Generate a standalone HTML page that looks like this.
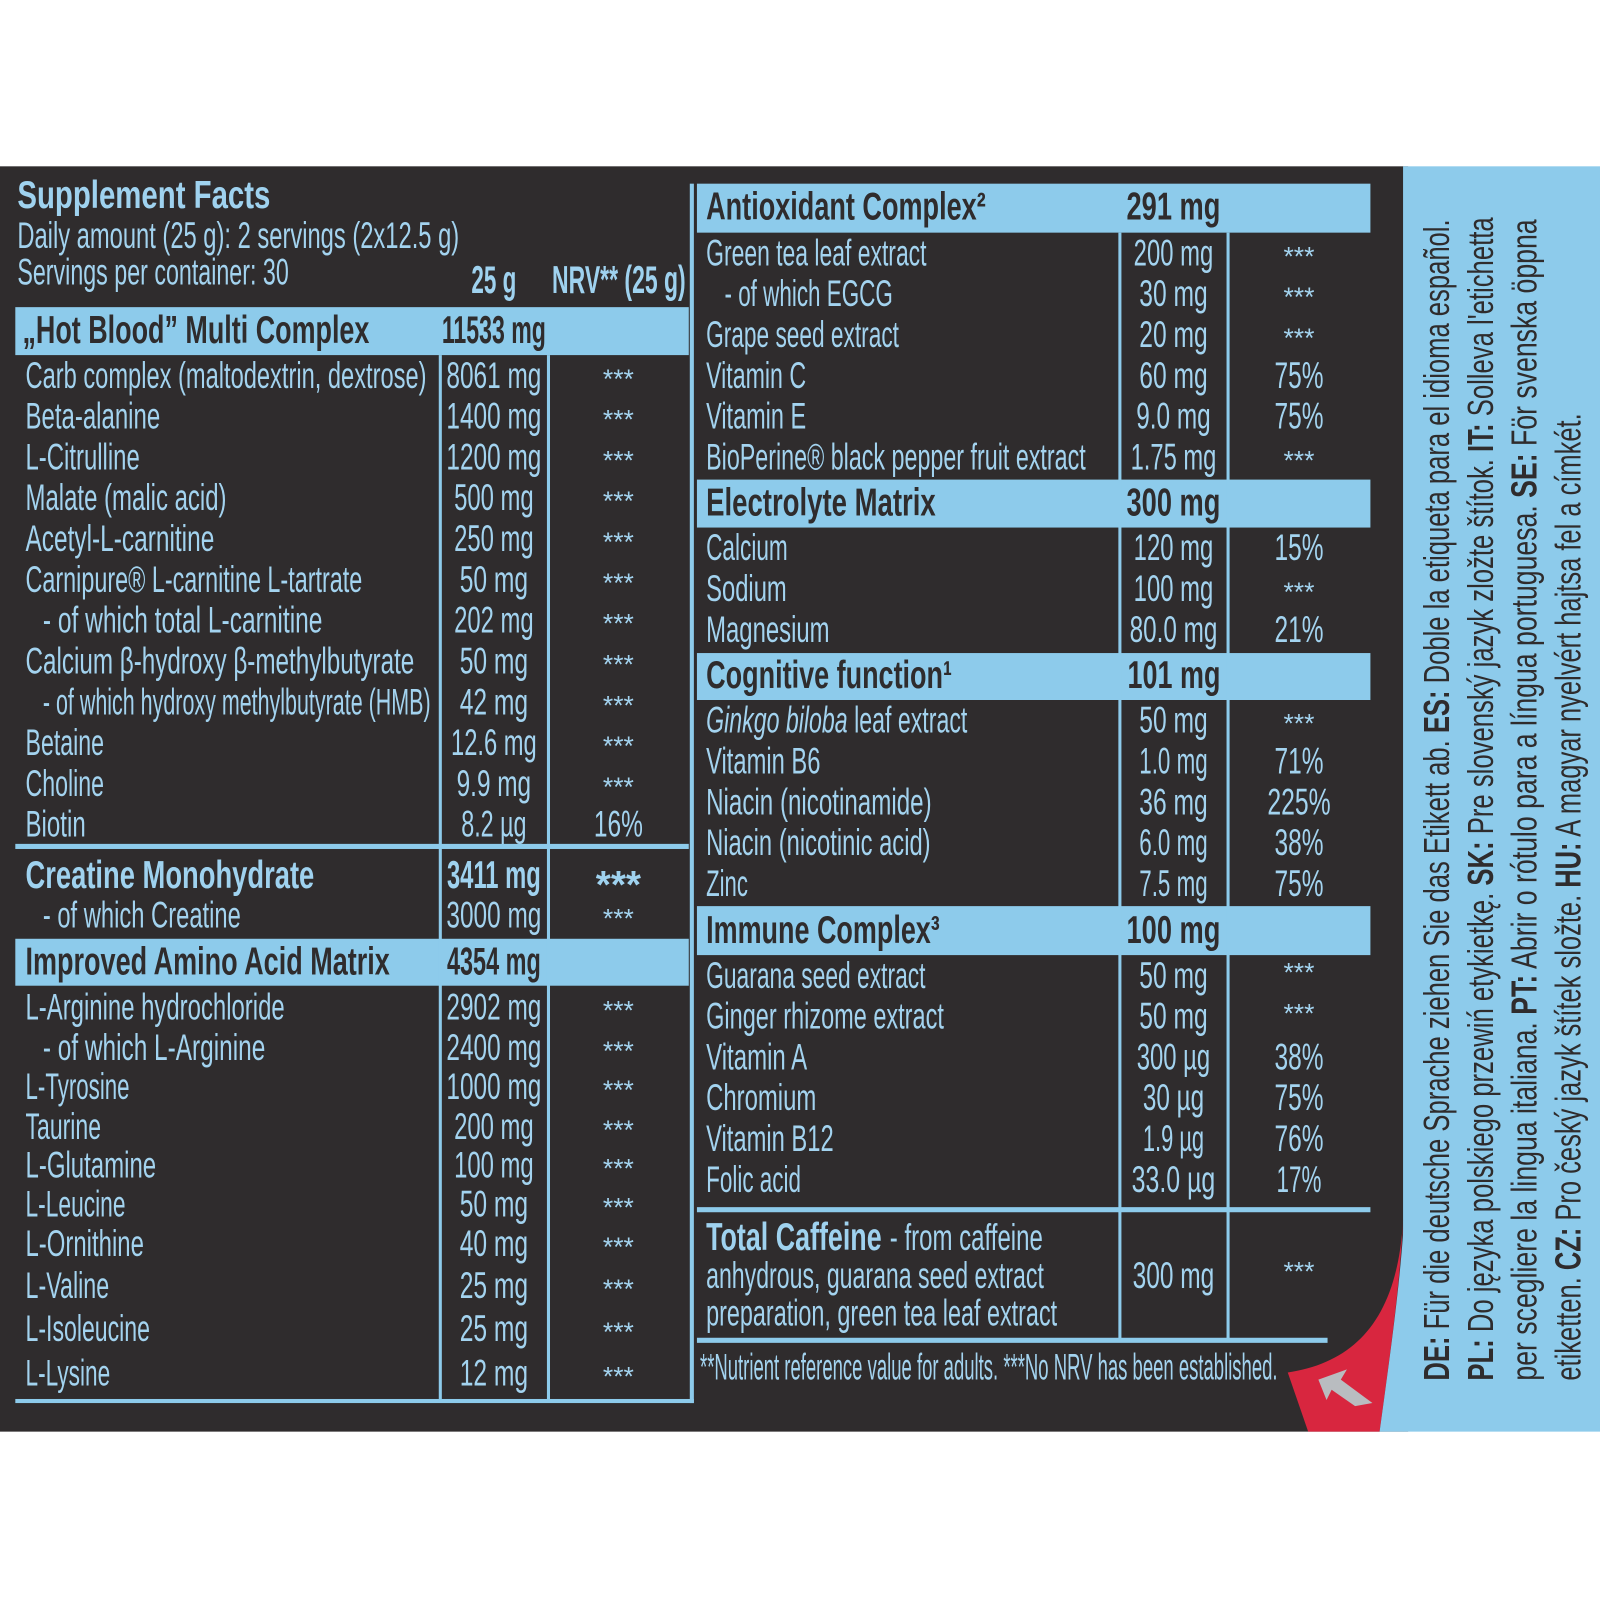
<!DOCTYPE html>
<html><head><meta charset="utf-8"><style>
html,body{margin:0;padding:0;background:#fff}
svg{display:block}
.t{font-family:"Liberation Sans Narrow","Liberation Sans",sans-serif;font-size:36px;fill:#a3d3ef}
.b{font-family:"Liberation Sans Narrow","Liberation Sans",sans-serif;font-size:38px;font-weight:bold}
.h{fill:#2f2c2d}
.hb{fill:#9fd2ef}
.m{text-anchor:middle}
.s{font-family:"Liberation Sans",sans-serif;font-size:26px;fill:#a3d3ef;text-anchor:middle}
.r{font-family:"Liberation Sans Narrow","Liberation Sans",sans-serif;font-size:35px;fill:#2f2c2d}
</style></head><body>
<svg width="1600" height="1600" viewBox="0 0 1568 1568" xmlns="http://www.w3.org/2000/svg">
<rect width="1568" height="1568" fill="#fff"/>
<rect x="0" y="163" width="1380" height="1240" fill="#2f2c2d"/>
<rect x="1375" y="163" width="193" height="1240" fill="#8dcbeb"/>
<path d="M1375,1195 C1370,1290 1330,1335 1262,1345 L1282,1403 L1352,1403 C1362,1330 1372,1260 1375,1195 Z" fill="#d8263f"/>
<path d="M1352,1403 C1362,1330 1372,1260 1376,1195 L1376,1403 Z" fill="#8dcbeb"/>
<path d="M1292,1352 L1320,1342 L1314,1352 L1345,1375 L1328,1378 L1305,1362 L1300,1372 Z" fill="#b9bcc0"/>

<!-- header -->
<text class="b hb" x="17" y="204" textLength="248" lengthAdjust="spacingAndGlyphs">Supplement Facts</text>
<text class="t" x="17" y="243" textLength="433" lengthAdjust="spacingAndGlyphs">Daily amount (25 g): 2 servings (2x12.5 g)</text>
<text class="t" x="17" y="279" textLength="266" lengthAdjust="spacingAndGlyphs">Servings per container: 30</text>
<text class="b hb" x="462" y="287" textLength="44" lengthAdjust="spacingAndGlyphs">25 g</text>
<text class="b hb" x="541" y="287" textLength="131" lengthAdjust="spacingAndGlyphs">NRV** (25 g)</text>

<!-- left table structure -->
<rect x="15" y="301" width="660" height="47" fill="#8dcbeb"/>
<rect x="15" y="920" width="660" height="46" fill="#8dcbeb"/>
<rect x="15" y="827" width="660" height="5" fill="#8dcbeb"/>
<rect x="15" y="1371" width="665" height="4" fill="#8dcbeb"/>
<rect x="430" y="348" width="3" height="1025" fill="#8dcbeb"/>
<rect x="536" y="348" width="3" height="1025" fill="#8dcbeb"/>
<rect x="676" y="180" width="4" height="1195" fill="#8dcbeb"/>

<text class="b h" x="22" y="336" textLength="340" lengthAdjust="spacingAndGlyphs">„Hot Blood” Multi Complex</text>
<text class="b h" x="433" y="336" textLength="102" lengthAdjust="spacingAndGlyphs">11533 mg</text>
<text class="b h" x="25" y="955" textLength="357" lengthAdjust="spacingAndGlyphs">Improved Amino Acid Matrix</text>
<text class="b h" x="438" y="955" textLength="92" lengthAdjust="spacingAndGlyphs">4354 mg</text>
<text class="b hb" x="25" y="870" textLength="283" lengthAdjust="spacingAndGlyphs">Creatine Monohydrate</text>
<text class="b hb" x="438" y="870" textLength="92" lengthAdjust="spacingAndGlyphs">3411 mg</text>
<text class="b hb m" x="606" y="880">***</text>

<g>
<text class="t" x="25" y="380" textLength="393" lengthAdjust="spacingAndGlyphs">Carb complex (maltodextrin, dextrose)</text>
<text class="t" x="25" y="420" textLength="132" lengthAdjust="spacingAndGlyphs">Beta-alanine</text>
<text class="t" x="25" y="460" textLength="112" lengthAdjust="spacingAndGlyphs">L-Citrulline</text>
<text class="t" x="25" y="500" textLength="197" lengthAdjust="spacingAndGlyphs">Malate (malic acid)</text>
<text class="t" x="25" y="540" textLength="185" lengthAdjust="spacingAndGlyphs">Acetyl-L-carnitine</text>
<text class="t" x="25" y="580" textLength="330" lengthAdjust="spacingAndGlyphs">Carnipure® L-carnitine L-tartrate</text>
<text class="t" x="42" y="620" textLength="274" lengthAdjust="spacingAndGlyphs">- of which total L-carnitine</text>
<text class="t" x="25" y="660" textLength="381" lengthAdjust="spacingAndGlyphs">Calcium β-hydroxy β-methylbutyrate</text>
<text class="t" x="42" y="700" textLength="380" lengthAdjust="spacingAndGlyphs">- of which hydroxy methylbutyrate (HMB)</text>
<text class="t" x="25" y="740" textLength="77" lengthAdjust="spacingAndGlyphs">Betaine</text>
<text class="t" x="25" y="780" textLength="77" lengthAdjust="spacingAndGlyphs">Choline</text>
<text class="t" x="25" y="820" textLength="59" lengthAdjust="spacingAndGlyphs">Biotin</text>
<text class="t" x="42" y="909" textLength="194" lengthAdjust="spacingAndGlyphs">- of which Creatine</text>
<text class="t" x="25" y="999" textLength="254" lengthAdjust="spacingAndGlyphs">L-Arginine hydrochloride</text>
<text class="t" x="42" y="1039" textLength="218" lengthAdjust="spacingAndGlyphs">- of which L-Arginine</text>
<text class="t" x="25" y="1077" textLength="102" lengthAdjust="spacingAndGlyphs">L-Tyrosine</text>
<text class="t" x="25" y="1116" textLength="74" lengthAdjust="spacingAndGlyphs">Taurine</text>
<text class="t" x="25" y="1154" textLength="128" lengthAdjust="spacingAndGlyphs">L-Glutamine</text>
<text class="t" x="25" y="1192" textLength="98" lengthAdjust="spacingAndGlyphs">L-Leucine</text>
<text class="t" x="25" y="1231" textLength="116" lengthAdjust="spacingAndGlyphs">L-Ornithine</text>
<text class="t" x="25" y="1272" textLength="82" lengthAdjust="spacingAndGlyphs">L-Valine</text>
<text class="t" x="25" y="1314" textLength="122" lengthAdjust="spacingAndGlyphs">L-Isoleucine</text>
<text class="t" x="25" y="1358" textLength="83" lengthAdjust="spacingAndGlyphs">L-Lysine</text>
</g>
<g>
<text class="t m" x="484" y="380" textLength="93" lengthAdjust="spacingAndGlyphs">8061 mg</text>
<text class="t m" x="484" y="420" textLength="93" lengthAdjust="spacingAndGlyphs">1400 mg</text>
<text class="t m" x="484" y="460" textLength="93" lengthAdjust="spacingAndGlyphs">1200 mg</text>
<text class="t m" x="484" y="500" textLength="78" lengthAdjust="spacingAndGlyphs">500 mg</text>
<text class="t m" x="484" y="540" textLength="78" lengthAdjust="spacingAndGlyphs">250 mg</text>
<text class="t m" x="484" y="580" textLength="67" lengthAdjust="spacingAndGlyphs">50 mg</text>
<text class="t m" x="484" y="620" textLength="78" lengthAdjust="spacingAndGlyphs">202 mg</text>
<text class="t m" x="484" y="660" textLength="67" lengthAdjust="spacingAndGlyphs">50 mg</text>
<text class="t m" x="484" y="700" textLength="67" lengthAdjust="spacingAndGlyphs">42 mg</text>
<text class="t m" x="484" y="740" textLength="84" lengthAdjust="spacingAndGlyphs">12.6 mg</text>
<text class="t m" x="484" y="780" textLength="73" lengthAdjust="spacingAndGlyphs">9.9 mg</text>
<text class="t m" x="484" y="820" textLength="64" lengthAdjust="spacingAndGlyphs">8.2 µg</text>
<text class="t m" x="484" y="909" textLength="93" lengthAdjust="spacingAndGlyphs">3000 mg</text>
<text class="t m" x="484" y="999" textLength="93" lengthAdjust="spacingAndGlyphs">2902 mg</text>
<text class="t m" x="484" y="1039" textLength="93" lengthAdjust="spacingAndGlyphs">2400 mg</text>
<text class="t m" x="484" y="1077" textLength="93" lengthAdjust="spacingAndGlyphs">1000 mg</text>
<text class="t m" x="484" y="1116" textLength="78" lengthAdjust="spacingAndGlyphs">200 mg</text>
<text class="t m" x="484" y="1154" textLength="78" lengthAdjust="spacingAndGlyphs">100 mg</text>
<text class="t m" x="484" y="1192" textLength="67" lengthAdjust="spacingAndGlyphs">50 mg</text>
<text class="t m" x="484" y="1231" textLength="67" lengthAdjust="spacingAndGlyphs">40 mg</text>
<text class="t m" x="484" y="1272" textLength="67" lengthAdjust="spacingAndGlyphs">25 mg</text>
<text class="t m" x="484" y="1314" textLength="67" lengthAdjust="spacingAndGlyphs">25 mg</text>
<text class="t m" x="484" y="1358" textLength="67" lengthAdjust="spacingAndGlyphs">12 mg</text>
</g>
<g>
<text class="s" x="606" y="380">***</text>
<text class="s" x="606" y="420">***</text>
<text class="s" x="606" y="460">***</text>
<text class="s" x="606" y="500">***</text>
<text class="s" x="606" y="540">***</text>
<text class="s" x="606" y="580">***</text>
<text class="s" x="606" y="620">***</text>
<text class="s" x="606" y="660">***</text>
<text class="s" x="606" y="700">***</text>
<text class="s" x="606" y="740">***</text>
<text class="s" x="606" y="780">***</text>
<text class="t m" x="606" y="820" textLength="48" lengthAdjust="spacingAndGlyphs">16%</text>
<text class="s" x="606" y="909">***</text>
<text class="s" x="606" y="999">***</text>
<text class="s" x="606" y="1039">***</text>
<text class="s" x="606" y="1077">***</text>
<text class="s" x="606" y="1116">***</text>
<text class="s" x="606" y="1154">***</text>
<text class="s" x="606" y="1192">***</text>
<text class="s" x="606" y="1231">***</text>
<text class="s" x="606" y="1272">***</text>
<text class="s" x="606" y="1314">***</text>
<text class="s" x="606" y="1358">***</text>
</g>

<!-- right table structure -->
<rect x="683" y="180" width="660" height="48" fill="#8dcbeb"/>
<rect x="683" y="470" width="660" height="47" fill="#8dcbeb"/>
<rect x="683" y="640" width="660" height="46" fill="#8dcbeb"/>
<rect x="683" y="888" width="660" height="48" fill="#8dcbeb"/>
<rect x="683" y="1183" width="660" height="5" fill="#8dcbeb"/>
<rect x="683" y="1311" width="618" height="5" fill="#8dcbeb"/>
<rect x="1096" y="228" width="3" height="1085" fill="#8dcbeb"/>
<rect x="1202" y="228" width="3" height="1085" fill="#8dcbeb"/>

<text class="b h" x="692" y="215" textLength="274" lengthAdjust="spacingAndGlyphs">Antioxidant Complex²</text>
<text class="b h" x="1104" y="215" textLength="92" lengthAdjust="spacingAndGlyphs">291 mg</text>
<text class="b h" x="692" y="505" textLength="225" lengthAdjust="spacingAndGlyphs">Electrolyte Matrix</text>
<text class="b h" x="1104" y="505" textLength="92" lengthAdjust="spacingAndGlyphs">300 mg</text>
<text class="b h" x="692" y="674" textLength="241" lengthAdjust="spacingAndGlyphs">Cognitive function¹</text>
<text class="b h" x="1105" y="674" textLength="91" lengthAdjust="spacingAndGlyphs">101 mg</text>
<text class="b h" x="692" y="924" textLength="229" lengthAdjust="spacingAndGlyphs">Immune Complex³</text>
<text class="b h" x="1104" y="924" textLength="92" lengthAdjust="spacingAndGlyphs">100 mg</text>

<g>
<text class="t" x="692" y="260" textLength="216" lengthAdjust="spacingAndGlyphs">Green tea leaf extract</text>
<text class="t" x="710" y="300" textLength="165" lengthAdjust="spacingAndGlyphs">- of which EGCG</text>
<text class="t" x="692" y="340" textLength="189" lengthAdjust="spacingAndGlyphs">Grape seed extract</text>
<text class="t" x="692" y="380" textLength="98" lengthAdjust="spacingAndGlyphs">Vitamin C</text>
<text class="t" x="692" y="420" textLength="98" lengthAdjust="spacingAndGlyphs">Vitamin E</text>
<text class="t" x="692" y="460" textLength="372" lengthAdjust="spacingAndGlyphs">BioPerine® black pepper fruit extract</text>
<text class="t" x="692" y="549" textLength="80" lengthAdjust="spacingAndGlyphs">Calcium</text>
<text class="t" x="692" y="589" textLength="79" lengthAdjust="spacingAndGlyphs">Sodium</text>
<text class="t" x="692" y="629" textLength="121" lengthAdjust="spacingAndGlyphs">Magnesium</text>
<text class="t" x="692" y="718" textLength="256" lengthAdjust="spacingAndGlyphs"><tspan font-style="italic">Ginkgo biloba</tspan> leaf extract</text>
<text class="t" x="692" y="758" textLength="112" lengthAdjust="spacingAndGlyphs">Vitamin B6</text>
<text class="t" x="692" y="798" textLength="221" lengthAdjust="spacingAndGlyphs">Niacin (nicotinamide)</text>
<text class="t" x="692" y="838" textLength="220" lengthAdjust="spacingAndGlyphs">Niacin (nicotinic acid)</text>
<text class="t" x="692" y="878" textLength="41" lengthAdjust="spacingAndGlyphs">Zinc</text>
<text class="t" x="692" y="968" textLength="215" lengthAdjust="spacingAndGlyphs">Guarana seed extract</text>
<text class="t" x="692" y="1008" textLength="233" lengthAdjust="spacingAndGlyphs">Ginger rhizome extract</text>
<text class="t" x="692" y="1048" textLength="99" lengthAdjust="spacingAndGlyphs">Vitamin A</text>
<text class="t" x="692" y="1088" textLength="108" lengthAdjust="spacingAndGlyphs">Chromium</text>
<text class="t" x="692" y="1128" textLength="125" lengthAdjust="spacingAndGlyphs">Vitamin B12</text>
<text class="t" x="692" y="1168" textLength="93" lengthAdjust="spacingAndGlyphs">Folic acid</text>
<text class="b hb" x="692" y="1225" textLength="172" lengthAdjust="spacingAndGlyphs">Total Caffeine</text>
<text class="t" x="872" y="1225" textLength="150" lengthAdjust="spacingAndGlyphs">- from caffeine</text>
<text class="t" x="692" y="1262" textLength="331" lengthAdjust="spacingAndGlyphs">anhydrous, guarana seed extract</text>
<text class="t" x="692" y="1299" textLength="344" lengthAdjust="spacingAndGlyphs">preparation, green tea leaf extract</text>
</g>
<g>
<text class="t m" x="1150" y="260" textLength="78" lengthAdjust="spacingAndGlyphs">200 mg</text>
<text class="t m" x="1150" y="300" textLength="67" lengthAdjust="spacingAndGlyphs">30 mg</text>
<text class="t m" x="1150" y="340" textLength="67" lengthAdjust="spacingAndGlyphs">20 mg</text>
<text class="t m" x="1150" y="380" textLength="67" lengthAdjust="spacingAndGlyphs">60 mg</text>
<text class="t m" x="1150" y="420" textLength="73" lengthAdjust="spacingAndGlyphs">9.0 mg</text>
<text class="t m" x="1150" y="460" textLength="84" lengthAdjust="spacingAndGlyphs">1.75 mg</text>
<text class="t m" x="1150" y="549" textLength="78" lengthAdjust="spacingAndGlyphs">120 mg</text>
<text class="t m" x="1150" y="589" textLength="78" lengthAdjust="spacingAndGlyphs">100 mg</text>
<text class="t m" x="1150" y="629" textLength="86" lengthAdjust="spacingAndGlyphs">80.0 mg</text>
<text class="t m" x="1150" y="718" textLength="67" lengthAdjust="spacingAndGlyphs">50 mg</text>
<text class="t m" x="1150" y="758" textLength="67" lengthAdjust="spacingAndGlyphs">1.0 mg</text>
<text class="t m" x="1150" y="798" textLength="67" lengthAdjust="spacingAndGlyphs">36 mg</text>
<text class="t m" x="1150" y="838" textLength="67" lengthAdjust="spacingAndGlyphs">6.0 mg</text>
<text class="t m" x="1150" y="878" textLength="67" lengthAdjust="spacingAndGlyphs">7.5 mg</text>
<text class="t m" x="1150" y="968" textLength="67" lengthAdjust="spacingAndGlyphs">50 mg</text>
<text class="t m" x="1150" y="1008" textLength="67" lengthAdjust="spacingAndGlyphs">50 mg</text>
<text class="t m" x="1150" y="1048" textLength="72" lengthAdjust="spacingAndGlyphs">300 µg</text>
<text class="t m" x="1150" y="1088" textLength="60" lengthAdjust="spacingAndGlyphs">30 µg</text>
<text class="t m" x="1150" y="1128" textLength="60" lengthAdjust="spacingAndGlyphs">1.9 µg</text>
<text class="t m" x="1150" y="1168" textLength="82" lengthAdjust="spacingAndGlyphs">33.0 µg</text>
<text class="t m" x="1150" y="1262" textLength="80" lengthAdjust="spacingAndGlyphs">300 mg</text>
</g>
<g>
<text class="s" x="1273" y="260">***</text>
<text class="s" x="1273" y="300">***</text>
<text class="s" x="1273" y="340">***</text>
<text class="t m" x="1273" y="380" textLength="48" lengthAdjust="spacingAndGlyphs">75%</text>
<text class="t m" x="1273" y="420" textLength="48" lengthAdjust="spacingAndGlyphs">75%</text>
<text class="s" x="1273" y="460">***</text>
<text class="t m" x="1273" y="549" textLength="48" lengthAdjust="spacingAndGlyphs">15%</text>
<text class="s" x="1273" y="589">***</text>
<text class="t m" x="1273" y="629" textLength="48" lengthAdjust="spacingAndGlyphs">21%</text>
<text class="s" x="1273" y="718">***</text>
<text class="t m" x="1273" y="758" textLength="48" lengthAdjust="spacingAndGlyphs">71%</text>
<text class="t m" x="1273" y="798" textLength="62" lengthAdjust="spacingAndGlyphs">225%</text>
<text class="t m" x="1273" y="838" textLength="48" lengthAdjust="spacingAndGlyphs">38%</text>
<text class="t m" x="1273" y="878" textLength="48" lengthAdjust="spacingAndGlyphs">75%</text>
<text class="s" x="1273" y="962">***</text>
<text class="s" x="1273" y="1002">***</text>
<text class="t m" x="1273" y="1048" textLength="48" lengthAdjust="spacingAndGlyphs">38%</text>
<text class="t m" x="1273" y="1088" textLength="48" lengthAdjust="spacingAndGlyphs">75%</text>
<text class="t m" x="1273" y="1128" textLength="48" lengthAdjust="spacingAndGlyphs">76%</text>
<text class="t m" x="1273" y="1168" textLength="44" lengthAdjust="spacingAndGlyphs">17%</text>
<text class="s" x="1273" y="1255">***</text>
</g>
<text class="t" x="686" y="1352" font-size="30" textLength="566" lengthAdjust="spacingAndGlyphs">**Nutrient reference value for adults. ***No NRV has been established.</text>

<!-- rotated language text -->
<g>
<text class="r" transform="translate(1420,1353) rotate(-90)" textLength="1138" lengthAdjust="spacingAndGlyphs"><tspan font-weight="bold">DE:</tspan> Für die deutsche Sprache ziehen Sie das Etikett ab. <tspan font-weight="bold">ES:</tspan> Doble la etiqueta para el idioma español.</text>
<text class="r" transform="translate(1463,1353) rotate(-90)" textLength="1140" lengthAdjust="spacingAndGlyphs"><tspan font-weight="bold">PL:</tspan> Do języka polskiego przewiń etykietkę. <tspan font-weight="bold">SK:</tspan> Pre slovenský jazyk zložte štítok. <tspan font-weight="bold">IT:</tspan> Solleva l'etichetta</text>
<text class="r" transform="translate(1506,1353) rotate(-90)" textLength="1138" lengthAdjust="spacingAndGlyphs">per scegliere la lingua italiana. <tspan font-weight="bold">PT:</tspan> Abrir o rótulo para a língua portuguesa. <tspan font-weight="bold">SE:</tspan> För svenska öppna</text>
<text class="r" transform="translate(1549,1353) rotate(-90)" textLength="948" lengthAdjust="spacingAndGlyphs">etiketten. <tspan font-weight="bold">CZ:</tspan> Pro český jazyk štítek složte. <tspan font-weight="bold">HU:</tspan> A magyar nyelvért hajtsa fel a címkét.</text>
</g>
</svg>
</body></html>
